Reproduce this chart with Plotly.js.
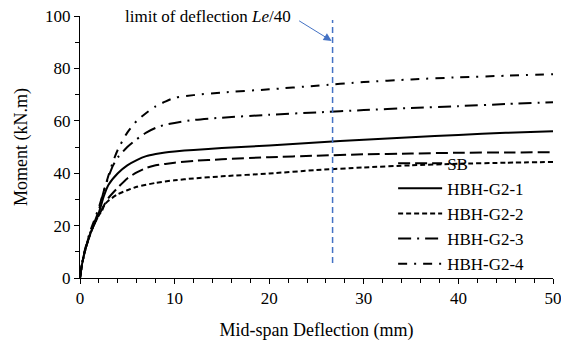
<!DOCTYPE html>
<html>
<head>
<meta charset="utf-8">
<script src="https://cdn.plot.ly/plotly-3.0.1.min.js"></script>
<style>html,body{margin:0;padding:0;background:#fff;}#chart{width:561px;height:345px;}</style>
</head>
<body>
<div id="chart"></div>
<script>
const seriesNames = ['SB', 'HBH-G2-1', 'HBH-G2-2', 'HBH-G2-3', 'HBH-G2-4'];

const sbX = [0, 0.2, 0.5, 1, 1.5, 2, 2.5, 3, 4, 5, 6, 7, 8, 10, 12, 15, 20, 25, 30, 35, 40, 45, 50];
const sbY = [0, 5, 10, 16, 20.5, 24, 27.5, 30.5, 34.5, 38, 40.3, 42, 43, 44, 44.7, 45.3, 46.1, 46.7, 47.2, 47.5, 47.8, 47.9, 48];

const g1X = [0, 0.2, 0.5, 1, 1.5, 2, 2.5, 3, 4, 5, 6, 7, 8, 9, 10, 12, 15, 20, 25, 30, 35, 40, 45, 50];
const g1Y = [0, 5, 10, 16, 20.5, 25, 31, 35.5, 40, 43, 45, 46.5, 47.3, 47.9, 48.3, 48.9, 49.6, 50.6, 51.7, 52.8, 53.7, 54.6, 55.4, 56.0];

const g2X = [0, 0.2, 0.5, 1, 1.5, 2, 2.3, 2.6, 3, 4, 5, 6, 8, 10, 12, 15, 20, 25, 30, 35, 40, 45, 50];
const g2Y = [0, 5, 10, 16, 20.5, 24, 25.5, 28, 29.5, 32, 33.5, 34.8, 36.3, 37.3, 38, 38.8, 39.9, 41.2, 42.2, 43, 43.6, 44, 44.3];

const g3X = [0, 0.2, 0.5, 1, 1.5, 2, 2.5, 3, 3.5, 4, 5, 6, 7, 8, 9, 10, 12, 15, 20, 25, 30, 35, 40, 45, 50];
const g3Y = [0, 5, 10, 16.5, 21, 26, 33, 38.5, 43, 46, 50, 53, 55.5, 57.3, 58.5, 59.2, 60.3, 61.2, 62.3, 63.2, 64.1, 64.9, 65.6, 66.4, 67.1];

const g4X = [0, 0.2, 0.5, 1, 1.5, 2, 2.5, 3, 3.5, 4, 5, 6, 7, 8, 9, 10, 12, 15, 20, 25, 30, 35, 40, 45, 50];
const g4Y = [0, 5, 10.5, 17, 22, 27, 33, 39, 44.5, 49, 55.5, 60, 63, 65.5, 67.3, 68.8, 69.8, 70.8, 72.0, 73.4, 74.8, 75.8, 76.6, 77.2, 77.8];

const limitX = 26.7;
const limitYRange = [5.7, 98.5];
const xTicks = [0, 10, 20, 30, 40, 50];
const yTicks = [0, 20, 40, 60, 80, 100];

const FONT = 'Liberation Serif, Times New Roman, serif';
const dashes = ['12px,5px', 'solid', '5px,3px', '13px,6px,2px,6px', '9px,7px,2px,7px'];
const xs = [sbX, g1X, g2X, g3X, g4X];
const ys = [sbY, g1Y, g2Y, g3Y, g4Y];

const traces = seriesNames.map((n, i) => ({
  type: 'scatter', mode: 'lines', name: n, x: xs[i], y: ys[i],
  line: {color: '#000', width: 2, dash: dashes[i], shape: 'spline', smoothing: 0.6}
}));

const axisCommon = {
  showline: true, linecolor: '#000', linewidth: 1, showgrid: false, zeroline: false,
  ticks: 'outside', ticklen: 5, tickwidth: 1, tickcolor: '#000',
  ticklabeloverflow: 'allow',
  tickfont: {family: FONT, size: 17, color: '#000'}
};

const layout = {
  width: 561, height: 345,
  margin: {l: 80, r: 8, t: 16, b: 67},
  paper_bgcolor: '#fff', plot_bgcolor: '#fff',
  font: {family: FONT, size: 17, color: '#000'},
  showlegend: true,
  legend: {x: 0.662, y: 0.505, xanchor: 'left', yanchor: 'top', bgcolor: 'rgba(0,0,0,0)',
           font: {family: FONT, size: 17, color: '#000'}, itemwidth: 44, tracegroupgap: 0},
  xaxis: Object.assign({}, axisCommon, {
    range: [0, 50], tickvals: xTicks, ticktext: xTicks.map(String),
    minor: {dtick: 2, tick0: 0, ticks: 'outside', ticklen: 4, tickcolor: '#000'},
    title: {text: 'Mid-span Deflection (mm)', font: {family: FONT, size: 18, color: '#000'}, standoff: 15}
  }),
  yaxis: Object.assign({}, axisCommon, {
    range: [0, 100], tickvals: yTicks, ticktext: yTicks.map(String),
    minor: {dtick: 10, tick0: 0, ticks: 'outside', ticklen: 4, tickcolor: '#000'},
    title: {text: 'Moment (kN.m)', font: {family: FONT, size: 18, color: '#000'}, standoff: 12}
  }),
  shapes: [{
    type: 'line', xref: 'x', yref: 'y', x0: limitX, x1: limitX, y0: limitYRange[0], y1: limitYRange[1],
    line: {color: '#4472C4', width: 1.5, dash: '6px,4px'}
  }],
  annotations: [
    {xref: 'paper', yref: 'paper', x: 0.09, y: 1.0, xanchor: 'left', yanchor: 'middle',
     text: 'limit of deflection <i>Le</i>/40', showarrow: false,
     font: {family: FONT, size: 17, color: '#000'}},
    {xref: 'x', yref: 'y', x: limitX - 0.1, y: 90.5, text: '', showarrow: true,
     ax: -34, ay: -21, arrowhead: 2, arrowsize: 1.6, arrowwidth: 1, arrowcolor: '#4472C4'}
  ]
};

Plotly.newPlot('chart', traces, layout, {staticPlot: true, displayModeBar: false});
</script>
</body>
</html>
